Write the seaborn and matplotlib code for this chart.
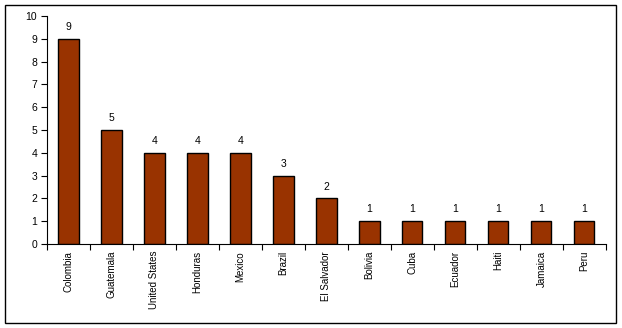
import matplotlib
matplotlib.use("Agg")
import matplotlib.pyplot as plt
import seaborn as sns
import numpy as np
import pandas as pd
from matplotlib.patches import Rectangle

countries = ["Colombia", "Guatemala", "United States", "Honduras", "Mexico", "Brazil",
             "El Salvador", "Bolivia", "Cuba", "Ecuador", "Haiti", "Jamaica", "Peru"]
counts = [9, 5, 4, 4, 4, 3, 2, 1, 1, 1, 1, 1, 1]
yticks = list(range(0, 11))

sns.set_theme(style="white")
plt.rcParams['font.family'] = ['Liberation Sans', 'DejaVu Sans']
plt.rcParams['text.color'] = 'black'
plt.rcParams['xtick.color'] = 'black'
plt.rcParams['ytick.color'] = 'black'

df = pd.DataFrame({"country": countries, "count": counts})

fig = plt.figure(figsize=(6.22, 3.28), dpi=100)
ax = fig.add_axes([0.0756, 0.256, 0.8984, 0.695])

sns.barplot(data=df, x="country", y="count", color="#993300", saturation=1,
            width=0.47, edgecolor="black", linewidth=1, ax=ax)

ax.set_ylim(0, 10)
ax.set_xlim(-0.5, len(countries) - 0.5)
ax.set_yticks(yticks)
ax.set_yticklabels([str(t) for t in yticks], fontsize=7.5, color="black")
ax.set_xlabel("")
ax.set_ylabel("")
ax.set_xticks(range(len(countries)))
ax.set_xticklabels(countries, rotation=90, fontsize=7, color="black")
ax.set_xticks(np.arange(-0.5, len(countries)), minor=True)
ax.tick_params(axis="x", which="major", length=0, pad=5)
ax.tick_params(axis="x", which="minor", length=4, width=0.8, color="black", direction="out", bottom=True)
ax.tick_params(axis="y", length=4, width=0.8, color="black", direction="out", left=True, pad=3)

for s in ["top", "right"]:
    ax.spines[s].set_visible(False)
for s in ["left", "bottom"]:
    ax.spines[s].set_color("black")
    ax.spines[s].set_linewidth(0.8)

for i, v in enumerate(counts):
    ax.text(i, v + 0.3, str(v), ha="center", va="bottom", fontsize=7.5, color="black")

fig.patches.append(Rectangle((5/622, 5/328), 611/622, 318/328, transform=fig.transFigure,
                             fill=False, edgecolor="black", linewidth=1))

fig.savefig("out.png", dpi=100)
